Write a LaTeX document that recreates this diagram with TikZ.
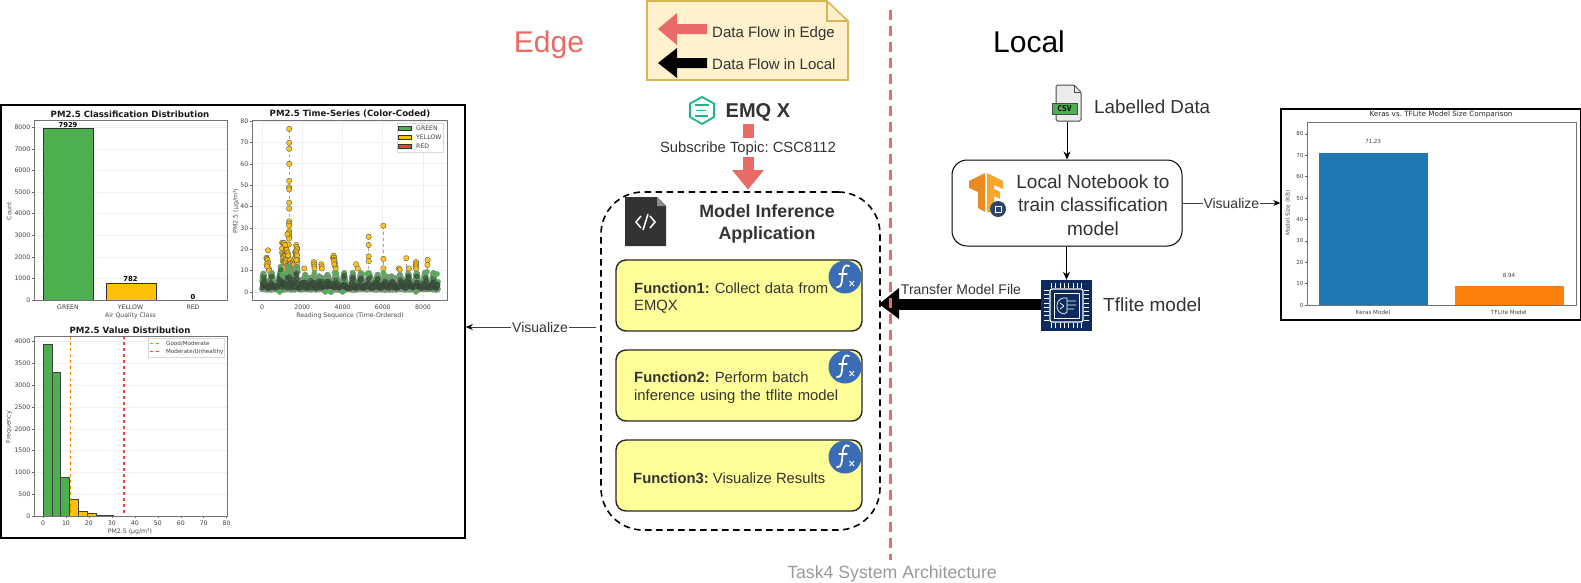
\documentclass[tikz,border=0pt]{standalone}
\usepackage{fontspec}
\setmainfont{Liberation Sans}
\newfontfamily\chartfont{DejaVu Sans}
\newfontfamily\monofont{DejaVu Sans Mono}
\usetikzlibrary{arrows.meta,calc}
\definecolor{edgered}{HTML}{EA6B66}
\definecolor{txt}{HTML}{333333}
\definecolor{notefill}{HTML}{FFF2CC}
\definecolor{notedraw}{HTML}{D6B656}
\definecolor{fnfill}{HTML}{FFFF99}
\definecolor{fxblue}{HTML}{3A6DB5}
\definecolor{cgreen}{HTML}{4CAF50}
\definecolor{cyellow}{HTML}{FFC107}
\definecolor{cred}{HTML}{F44336}
\definecolor{mblue}{HTML}{1F77B4}
\definecolor{morange}{HTML}{FF7F0E}
\definecolor{navy}{HTML}{0D2A5C}
\definecolor{emqgreen}{HTML}{1BB583}
\definecolor{tfdark}{HTML}{EC8A22}
\definecolor{tflight}{HTML}{F6A72B}
\newcommand{\fsz}[1]{\fontsize{#1}{#1}\selectfont}
\frenchspacing
\tikzset{
  x=1pt,y=-1pt,
  lbl/.style={inner sep=0pt,text=txt,font=\fsz{#1}},
  lbl/.default=14,
  fnbox/.style={draw=black!85,line width=1.4pt,fill=fnfill,rounded corners=10pt,minimum width=246pt,minimum height=71pt,inner sep=0pt},
  fntext/.style={anchor=west,inner sep=0pt,text=txt,font=\fsz{14.8},align=left},
  tick/.style={inner sep=0pt,text=black!75,font=\chartfont\fsz{6.2}},
  axlabel/.style={inner sep=0pt,text=black!70,font=\chartfont\fsz{6.2}},
  ctitle/.style={inner sep=0pt,text=black!90,font=\chartfont\bfseries\fsz{8.6}},
  axbox/.style={draw=black!55,line width=.9pt},
  gridl/.style={draw=black!6,line width=.6pt},
  smallarrow/.style={draw=black!75,line width=.9pt,-{Stealth[length=7pt,width=6pt,color=black]}},
  yellowpt/.style={fill=cyellow,fill opacity=.9,draw=black!65,line width=.4pt},
  fxicon/.pic={
    \fill[fxblue] (0,0) circle (16.5pt);
    \draw[white,line width=1.8pt,line cap=round] (4,-11) .. controls (0,-13) and (-2,-10) .. (-2.5,-3) .. controls (-3,4) and (-3,11) .. (-8,10);
    \draw[white,line width=1.3pt,line cap=round] (-6,-3) -- (2,-3);
    \draw[white,line width=.9pt] (4.5,4) -- (9,9) (9,4) -- (4.5,9);
  }
}
\begin{document}
\begin{tikzpicture}
\useasboundingbox (0,0) rectangle (1581,582);

% ---------- left chart frame
\node[draw=black,line width=1.6pt,minimum width=464pt,minimum height=433pt,inner sep=0pt] (leftframe) at (233,321.5) {};

% chart 1
\foreach \v in {0,1000,...,8000}{
  \draw[gridl] (34,300-\v*0.02159) -- (227,300-\v*0.02159);
  \draw[black!60,line width=.5pt] (32,300-\v*0.02159) -- (34,300-\v*0.02159);
  \node[tick,anchor=east] at (30.5,300-\v*0.02159) {\v};
}
\fill[cgreen,draw=black!80,line width=1pt] (43,300) rectangle (93,128.8);
\fill[cyellow,draw=black!80,line width=1pt] (106,300) rectangle (156,283.1);
\draw[axbox] (34,120) rectangle (227,300);
\node[ctitle] at (130,114) {PM2.5 Classification Distribution};
\node[inner sep=0pt,font=\chartfont\bfseries\fsz{6.8}] at (68,125) {7929};
\node[inner sep=0pt,font=\chartfont\bfseries\fsz{6.8}] at (130.5,279.5) {782};
\node[inner sep=0pt,font=\chartfont\bfseries\fsz{6.8}] at (193,297) {0};
\node[tick] at (68,307) {GREEN};
\node[tick] at (130.5,307) {YELLOW};
\node[tick] at (193,307) {RED};
\node[axlabel] at (130.5,316) {Air Quality Class};
\node[axlabel,rotate=90] at (9,211) {Count};

% chart 2
\foreach \v in {0,10,...,80}{
  \draw[gridl] (252,292-\v*2.1375) -- (447,292-\v*2.1375);
  \draw[black!60,line width=.5pt] (250,292-\v*2.1375) -- (252,292-\v*2.1375);
  \node[tick,anchor=east] at (248.5,292-\v*2.1375) {\v};
}
\foreach \v in {0,2000,4000,6000,8000}{
  \draw[gridl] (262+\v*0.020125,120) -- (262+\v*0.020125,300);
  \node[tick] at (262+\v*0.020125,307) {\v};
}
\foreach \a/\b in {1350/76,5300/26,6030/31,7170/16,8230/15,300/20}{
  \draw[black!35,dashed,line width=.5pt] (262+\a*0.020125,292-\b*2.1375) -- (262+\a*0.020125,280);
}
\pgfmathsetseed{11}
\foreach \xv in {1000,1025,...,1750}{
  \pgfmathsetmacro\yy{10+(13-(\xv>1350)*(\xv<1650)*7)*rnd}
  \filldraw[yellowpt] (262+\xv*0.020125,292-\yy*2.1375) circle (2.7pt);
  \pgfmathsetmacro\yy{10+(11-(\xv>1350)*(\xv<1650)*5)*rnd}
  \filldraw[yellowpt] (262+\xv*0.020125,292-\yy*2.1375) circle (2.7pt);
}
\foreach \xv/\yy in {1000/23,1050/23,1100/23,1150/22,1700/22,1720/21,1740/20,1700/19,1720/18,1740/17,1710/15,
  1350/76.3,1350/69.8,1350/67,1350/60,1350/52,1350/49,1350/48,1350/41.8,1350/39,1350/33,1350/32,1350/31,1350/28.5,1350/27.5,1350/26,1350/25,1260/27,
  300/19.5,220/16,240/15.5,280/15,310/13.5,340/11,350/10,230/13,250/12,2100/11,2580/14,2590/13,2600/12,2610/11,2950/13,2960/12,2970/11,3530/16,3560/17,3580/16,3600/15,3620/13.5,3640/12,3660/11,3570/14.5,3590/13,4680/13,4760/11,5300/25.8,5300/22,5300/16.7,5300/14.5,6030/31,6030/15.5,6030/11,7170/15.8,6800/11,6850/10.5,7300/11,7650/14,7650/13,7650/12,7650/11,8230/15,8220/12.7}{
  \filldraw[yellowpt] (262+\xv*0.020125,292-\yy*2.1375) circle (2.7pt);
}
% green envelope, then the dark dense core of overlapping markers
\foreach \xv in {0,15,...,8750}{
  \pgfmathsetmacro\topv{5.2+2.4*sin(\xv*0.9)+1.5*sin(\xv*1.7)+(\xv>900)*(\xv<1800)*3-(\xv>4100)*(\xv<4500)*1}
  \pgfmathsetmacro\lowv{1+1.2*rnd}
  \filldraw[fill=cgreen,fill opacity=.9,draw=black!45,line width=.3pt] (262+\xv*0.020125,292-\topv*2.1375) circle (2.6pt);
  \filldraw[fill=cgreen,fill opacity=.9,draw=black!45,line width=.3pt] (262+\xv*0.020125,292-\lowv*2.1375) circle (2.6pt);
}
\foreach \xv in {0,15,...,8750}{
  \pgfmathsetmacro\topv{5.2+2.4*sin(\xv*0.9)+1.5*sin(\xv*1.7)+(\xv>900)*(\xv<1800)*3-(\xv>4100)*(\xv<4500)*1}
  \pgfmathsetmacro\yy{1.8+max(\topv-2.8,0.2)*rnd}
  \filldraw[fill=cgreen!60!black,fill opacity=.6,draw=black!75,line width=.4pt] (262+\xv*0.020125,292-\yy*2.1375) circle (2.2pt);
}
\foreach \xv/\yy in {880/0,3150/0,3400/0,3450/0,4000/0,7650/0,1000/8,1200/9,1350/9.5,2600/9,3600/9,5300/9,6030/9,8200/9.5,8700/8.5,8600/8,5200/8.5,3700/8.8}{
  \filldraw[fill=cgreen,draw=black!40,line width=.3pt] (262+\xv*0.020125,292-\yy*2.1375) circle (2.6pt);
}
\draw[axbox] (252,120) rectangle (447,300);
\node[ctitle] at (350,114) {PM2.5 Time-Series (Color-Coded)};
\node[axlabel] at (350,316) {Reading Sequence (Time-Ordered)};
\node[axlabel,rotate=90] at (236,211) {PM2.5 (µg/m³)};
\filldraw[fill=white,draw=black!15,line width=.5pt] (397,123) rectangle (443,152);
\foreach \c/\t/\yy in {cgreen/GREEN/128,cyellow/YELLOW/137,cred/RED/146}{
  \filldraw[fill=\c,draw=black!80,line width=.6pt] (398.5,\yy-2) rectangle (411,\yy+2);
  \node[tick,anchor=west] at (416,\yy) {\t};
}

% chart 3
\foreach \v in {0,500,...,4000}{
  \draw[gridl] (34,516-\v*0.0436) -- (227,516-\v*0.0436);
  \draw[black!60,line width=.5pt] (32,516-\v*0.0436) -- (34,516-\v*0.0436);
  \node[tick,anchor=east] at (30.5,516-\v*0.0436) {\v};
}
\foreach \v in {0,10,...,80}{
  \draw[black!60,line width=.5pt] (43+\v*2.296,516) -- (43+\v*2.296,518);
  \node[tick] at (43+\v*2.296,523) {\v};
}
\foreach \a/\b/\h/\c in {43/52/3930/cgreen,52/60.7/3300/cgreen,60.7/69.7/890/cgreen,69.7/78.3/390/cyellow,78.3/87/110/cyellow,87/96/50/cyellow,96/104.5/12/cyellow,104.5/113/6/cyellow}{
  \filldraw[fill=\c,draw=black!75,line width=.7pt] (\a,516) rectangle (\b,516-\h*0.0436);
}
\draw[orange,dashed,line width=1pt] (70.3,336) -- (70.3,516);
\draw[red!75,dashed,line width=1.3pt] (124,336) -- (124,516);
\draw[axbox] (34,336) rectangle (227,516);
\node[ctitle] at (130,330) {PM2.5 Value Distribution};
\node[axlabel] at (130,532) {PM2.5 (µg/m³)};
\node[axlabel,rotate=90] at (9,427) {Frequency};
\filldraw[fill=white,draw=black!15,line width=.5pt] (148,338) rectangle (224,357);
\draw[orange,dashed,line width=.9pt] (150,343.5) -- (161,343.5);
\draw[red!75,dashed,line width=.9pt] (150,351.5) -- (161,351.5);
\node[tick,anchor=west,font=\chartfont\fsz{5.6}] at (166,343.5) {Good/Moderate};
\node[tick,anchor=west,font=\chartfont\fsz{5.6}] at (166,351.5) {Moderate/Unhealthy};

% ---------- headings
\node[inner sep=0pt,text=edgered,font=\fsz{30}] (edgehead) at (549,45) {Edge};
\node[inner sep=0pt,text=black,font=\fsz{30}] (localhead) at (1029,42) {Local};
\node[inner sep=0pt,text=black!40,font=\fsz{17.7}] (caption) at (892,574) {Task4 System Architecture};

% ---------- note
\filldraw[fill=notefill,draw=notedraw,line width=1.6pt,line join=miter] (647,1) -- (827,1) -- (848,21) -- (848,80) -- (647,80) -- cycle;
\draw[notedraw,line width=1.6pt] (827,1) -- (827,21) -- (848,21);
\fill[edgered] (658,29) -- (677,13) -- (677,24) -- (707,24) -- (707,34) -- (677,34) -- (677,45) -- cycle;
\fill[black] (658,63) -- (677,48) -- (677,58) -- (707,58) -- (707,68) -- (677,68) -- (677,78) -- cycle;
\node[lbl=15,anchor=west] (legend1) at (712,34) {Data Flow in Edge};
\node[lbl=15,anchor=west] (legend2) at (712,64.5) {Data Flow in Local};

% ---------- EMQ X
\draw[emqgreen,line width=1.8pt,line join=round] (702,97) -- (714,103.5) -- (714,117) -- (702,124) -- (690,117) -- (690,103.5) -- cycle;
\draw[emqgreen,line width=1.9pt] (695,105) -- (709,105) (696,110.5) -- (706,110.5) (695,116) -- (708,116);
\node[inner sep=0pt,font=\bfseries\fsz{20},text=txt,anchor=west] (emq) at (725.5,112) {EMQ X};
\coordinate (emqout) at (748,124);

% ---------- inference application
\node[draw=black,dash pattern=on 6.5pt off 4.5pt,line width=1.6pt,rounded corners=42pt,minimum width=279pt,minimum height=338pt,inner sep=0pt] (app) at (740.5,361) {};
\fill[black!80] (625,197) -- (657,197) -- (666,206) -- (666,246) -- (625,246) -- cycle;
\fill[black!45] (657,197) -- (666,206) -- (657,206) -- cycle;
\draw[white,line width=1.5pt] (641,216) -- (636,222) -- (641,228) (650,216) -- (655,222) -- (650,228) (648,214) -- (643,230);
\node[inner sep=0pt,text=txt,font=\bfseries\fsz{17.8},align=center] (apptitle) at (767,224) {Model Inference\\[4.5pt]Application};

\draw[edgered,line width=11pt] (emqout) -- (748,138);
\draw[edgered,line width=11pt] (748,157) -- (748,171);
\fill[edgered] (732,170) -- (764,170) -- (748,189.5) -- cycle;
\node[lbl=14.8] (sublabel) at (748,149) {Subscribe Topic: CSC8112};

\node[fnbox] (f1) at (739,295.5) {};
\node[fnbox] (f2) at (739,385.5) {};
\node[fnbox] (f3) at (739,475.5) {};
\node[fntext,text width=210pt] at (634,298) {\textbf{Function1:} Collect data from\\[3pt]EMQX};
\node[fntext,text width=215pt] at (634,388) {\textbf{Function2:} Perform batch\\[3pt]inference using the tflite model};
\node[fntext] at (633,478) {\textbf{Function3:} Visualize Results};
\pic at (845,277) {fxicon};
\pic at (845,367) {fxicon};
\pic at (845,457) {fxicon};

% ---------- local side
\node[minimum width=30pt,minimum height=37pt,inner sep=0pt] (csv) at (1067,103.5) {};
\filldraw[fill=black!8,draw=black!70,line width=1pt,rounded corners=1.5pt] (1056,85) -- (1074,85) -- (1081,92) -- (1081,121) -- (1056,121) -- cycle;
\draw[black!70,line width=.8pt] (1074,85) -- (1074,92) -- (1081,92);
\filldraw[fill=cgreen,draw=black!70,line width=.8pt] (1052,103) rectangle (1077,114);
\node[inner sep=0pt,font=\monofont\bfseries\fsz{8},text=black] at (1064.5,108.5) {CSV};
\node[lbl=18.8,anchor=west] (csvlabel) at (1094,107) {Labelled Data};

\node[draw=black,line width=1pt,fill=white,rounded corners=15pt,minimum width=230pt,minimum height=86pt,inner sep=0pt] (nb) at (1067,203) {};
\fill[tfdark] (969,181) -- (985,173) -- (985,212) -- (978,208) -- (978,192) -- (969,188) -- cycle;
\fill[tflight] (987,173) -- (1003,181) -- (1003,189) -- (994,185) -- (994,189) -- (1000,192) -- (1000,199) -- (994,196) -- (994,212) -- (987,212) -- cycle;
\fill[navy!70!gray] (998,209) circle (8pt);
\draw[white,line width=.8pt] (995,206) rectangle (1001,212);
\node[lbl=19,align=center] (nbtext) at (1093,205) {Local Notebook to\\[4.5pt]train classification\\[4.5pt]model};

\node[fill=navy,minimum width=51pt,minimum height=51pt,inner sep=0pt] (tflite) at (1066.5,305.5) {};
\draw[white,line width=1.2pt,rounded corners=2pt] (1050,289) rectangle (1083,322);
\draw[white,line width=.8pt] (1054,293) rectangle (1079,318);
\foreach \i in {0,1,...,7}{
  \draw[white,line width=.8pt] (1051.5+\i*4.3,283) -- (1051.5+\i*4.3,288);
  \draw[white,line width=.8pt] (1051.5+\i*4.3,323) -- (1051.5+\i*4.3,328);
  \draw[white,line width=.8pt] (1044,290+\i*4.3) -- (1049,290+\i*4.3);
  \draw[white,line width=.8pt] (1084,290+\i*4.3) -- (1089,290+\i*4.3);
}
\draw[white,line width=.7pt] (1067,298) .. controls (1056,296) and (1054,310) .. (1061,313) .. controls (1063,315) and (1066,314) .. (1067,312) -- cycle;
\draw[white,line width=.7pt] (1067,301) -- (1076,301) (1067,305) -- (1076,305) (1067,309) -- (1074,309) (1060,303) -- (1064,306) (1060,309) -- (1064,306);
\node[lbl=19,anchor=west] (tflabel) at (1103,304.5) {Tflite model};

\draw[black,line width=1pt,-{Stealth[length=8pt,width=7pt]}] (csv.south) -- (nb.north -| csv.south);
\draw[black,line width=1pt,-{Stealth[length=8pt,width=7pt]}] (nb.south -| tflite.north) -- (tflite.north);

% ---------- right chart
\node[draw=black,line width=1.5pt,minimum width=300pt,minimum height=211pt,inner sep=0pt] (rightframe) at (1431,214.5) {};
\foreach \v in {0,10,...,80}{
  \draw[black!60,line width=.5pt] (1305,305-\v*2.14) -- (1307,305-\v*2.14);
  \node[tick,anchor=east,font=\chartfont\fsz{5.5}] at (1303.5,305-\v*2.14) {\v};
}
\fill[mblue] (1319,305) rectangle (1428,152.5);
\fill[morange] (1455,305) rectangle (1564,286);
\draw[axbox] (1307,122) rectangle (1576,305);
\node[tick,font=\chartfont\fsz{5.6}] at (1373,141) {71.23};
\node[tick,font=\chartfont\fsz{5.6}] at (1509,275) {8.94};
\node[tick,font=\chartfont\fsz{5.6}] at (1373,312) {Keras Model};
\node[tick,font=\chartfont\fsz{5.6}] at (1509,312) {TFLite Model};
\node[axlabel,rotate=90,font=\chartfont\fsz{5.8}] at (1288,213) {Model Size (KB)};
\node[axlabel,text=black!85,font=\chartfont\fsz{7.2}] at (1441,115) {Keras vs. TFLite Model Size Comparison};

% ---------- connectors
\draw[smallarrow] (nb.east) -- (rightframe.west |- nb.east) node[pos=.5,fill=white,inner sep=1pt,text=txt,font=\fsz{14}] {Visualize};
\draw[smallarrow] (app.west |- 0,327) ++(-4,0) coordinate (appleft) -- (leftframe.east |- appleft) node[pos=.43,fill=white,inner sep=1pt,text=txt,font=\fsz{14}] {Visualize};
\draw[black,line width=10.5pt] (tflite.west |- 0,304.5) -- (897,304.5);
\fill[black] (899,288) -- (899,319) -- (879,304) -- cycle;
\node[lbl=14,fill=white,inner sep=1pt] (tlabel) at (961,289) {Transfer Model File};
\coordinate (sepA) at (890.5,10);
\coordinate (sepB) at (890.5,560);
\draw[edgered,line width=3pt,dash pattern=on 10pt off 6pt] (sepA) -- (sepB);
\end{tikzpicture}
\end{document}
